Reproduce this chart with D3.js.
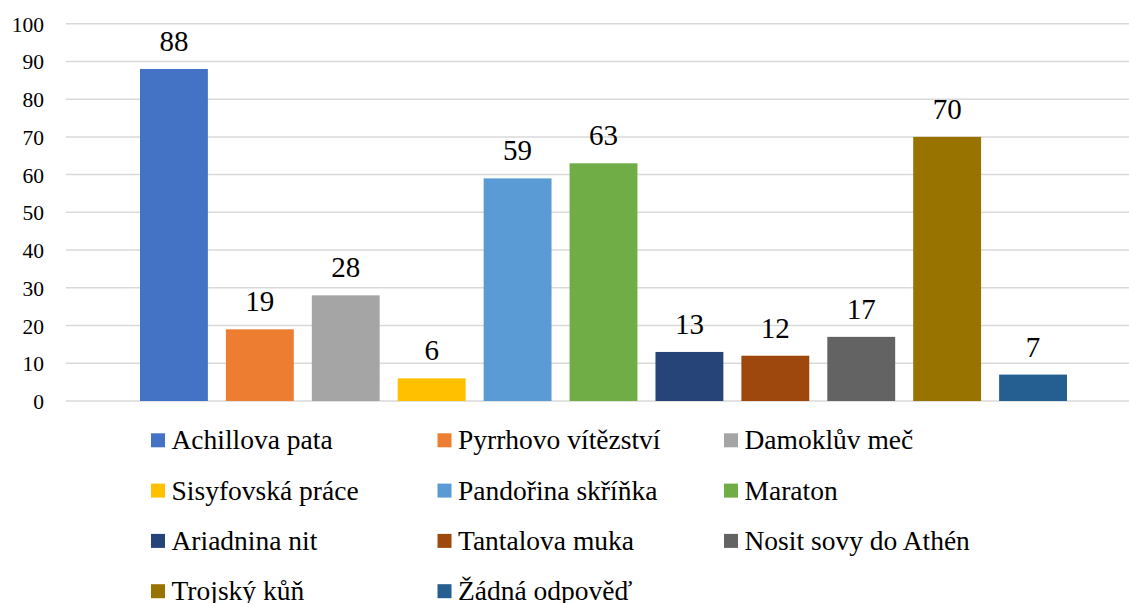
<!DOCTYPE html>
<html>
<head>
<meta charset="UTF-8">
<script src="https://d3js.org/d3.v7.min.js"></script>
</head>
<body style="margin:0">
<svg width="1129" height="603" style="font-family: 'Liberation Serif', 'Times New Roman', serif"></svg>
<script>
  const width = 1129, height = 603;

  // data
  const categories = ["Achillova pata", "Pyrrhovo vítězství", "Damoklův meč", "Sisyfovská práce",
    "Pandořina skříňka", "Maraton", "Ariadnina nit", "Tantalova muka", "Nosit sovy do Athén",
    "Trojský kůň", "Žádná odpověď"];
  const values = [88, 19, 28, 6, 59, 63, 13, 12, 17, 70, 7];
  const colors = ["#4472C4", "#ED7D31", "#A5A5A5", "#FFC000", "#5B9BD5", "#70AD47",
    "#264478", "#9E480E", "#636363", "#997300", "#255E91"];
  const yTicks = [0, 10, 20, 30, 40, 50, 60, 70, 80, 90, 100];

  const svg = d3.select("svg");
  const x = d3.scaleBand().domain(categories).range([140, 1067])
    .paddingInner(0.21).paddingOuter(0);
  const y = d3.scaleLinear().domain([0, 100]).range([401, 23.7]);
  const color = d3.scaleOrdinal().domain(categories).range(colors);

  // gridlines
  svg.append("g").selectAll("line").data(yTicks).enter().append("line")
    .attr("x1", 66).attr("x2", width)
    .attr("y1", d => y(d)).attr("y2", d => y(d))
    .attr("stroke", "#d9d9d9").attr("stroke-width", 1.5);

  // y labels
  svg.append("g").selectAll("text").data(yTicks).enter().append("text")
    .attr("x", 44).attr("y", d => y(d) + 8)
    .attr("text-anchor", "end")
    .style("font-family", "\"Liberation Serif\"")
    .style("font-size", "21.5px")
    .text(d => d);

  // bars
  svg.append("g").selectAll("rect").data(categories).enter().append("rect")
    .attr("x", d => x(d))
    .attr("width", x.bandwidth())
    .attr("y", (d, i) => y(values[i]))
    .attr("height", (d, i) => y(0) - y(values[i]))
    .attr("fill", d => color(d));

  // value labels
  svg.append("g").selectAll("text").data(categories).enter().append("text")
    .attr("x", d => x(d) + x.bandwidth() / 2)
    .attr("y", (d, i) => y(values[i]) - 18)
    .attr("text-anchor", "middle")
    .style("font-family", "\"Liberation Serif\"")
    .style("font-size", "29px")
    .text((d, i) => values[i]);

  // legend
  const legend = svg.append("g").selectAll("g").data(categories).enter().append("g")
    .attr("transform", (d, i) => `translate(${151 + (i % 3) * 286.5},${433.3 + Math.floor(i / 3) * 50.3})`);
  legend.append("rect")
    .attr("width", 14).attr("height", 14)
    .attr("fill", d => color(d));
  legend.append("text")
    .attr("x", 20.5).attr("y", 16)
    .style("font-family", "\"Liberation Serif\"")
    .style("font-size", "27.5px")
    .text(d => d);
</script>
</body>
</html>
